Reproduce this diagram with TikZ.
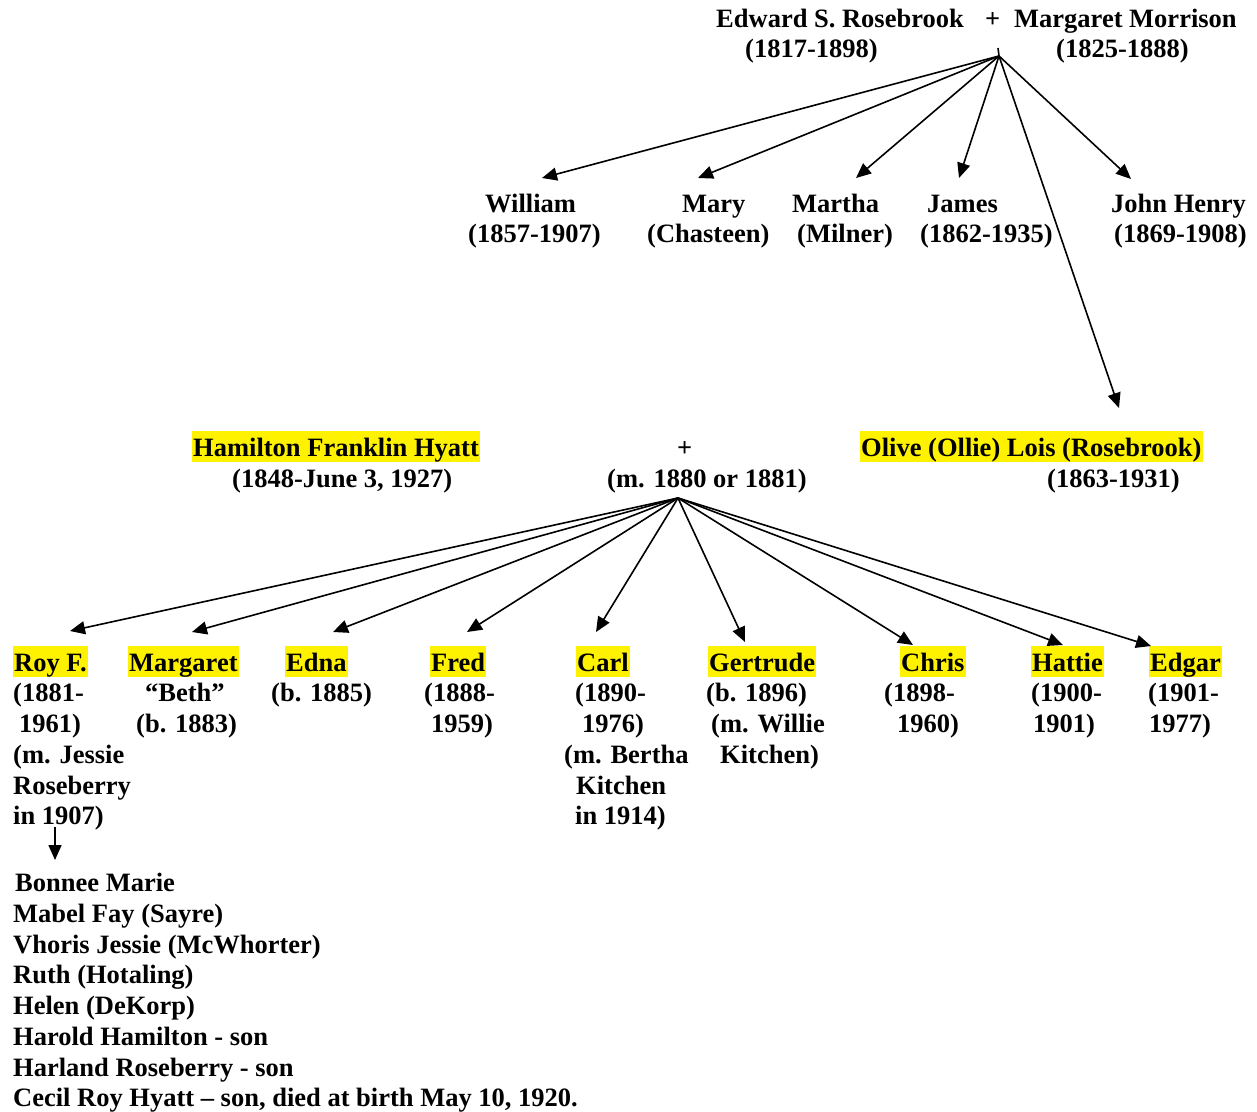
\documentclass[tikz,border=0pt]{standalone}
\usepackage{fontspec}
\setmainfont{Liberation Serif}
\usetikzlibrary{arrows.meta}
\begin{document}
\begin{tikzpicture}[x=1pt,y=-1pt,
  every node/.style={font=\fontsize{26.5pt}{30.5pt}\selectfont\bfseries, inner sep=0pt, anchor=base west},
  hl/.style={fill=yellow, text height=25pt, text depth=6pt, inner xsep=1pt},
  arr/.style={line width=1.6pt, -{Triangle[length=15pt,width=13pt]}}]
\useasboundingbox (0,0) rectangle (1257,1111);
% ---- first generation
\node (edw) at (716,27) {Edward S. Rosebrook};
\node (plus1) at (985,27) {+};
\node (mar) at (1014,27) {Margaret Morrison};
\node (edwd) at (745,57) {(1817-1898)};
\node (mard) at (1056,57) {(1825-1888)};
% ---- their children
\node (wil) at (485,212) {William};
\node (wild) at (468,242) {(1857-1907)};
\node (mary) at (682,212) {Mary};
\node (maryd) at (647,242) {(Chasteen)};
\node (mart) at (792,212) {Martha};
\node (martd) at (797,242) {(Milner)};
\node (jam) at (927,212) {James};
\node (jamd) at (920,242) {(1862-1935)};
\node (joh) at (1111,212) {John Henry};
\node (johd) at (1114,242) {(1869-1908)};
% ---- second couple
\node[hl] (ham) at (192,456) {Hamilton Franklin Hyatt};
\node (hamd) at (232,487) {(1848-June 3, 1927)};
\node (plus2) at (677,456) {+};
\node (marr) at (607,487) {(m. 1880 or 1881)};
\node[hl] (oli) at (860,456) {Olive (Ollie) Lois (Rosebrook)};
\node (olid) at (1047,487) {(1863-1931)};
% ---- grandchildren
\node[hl] (roy) at (13,671) {Roy F.};
\node (roy2) at (13,701) {(1881-};
\node (roy3) at (19,732) {1961)};
\node (roy4) at (13,763) {(m. Jessie};
\node (roy5) at (13,794) {Roseberry};
\node (roy6) at (13,824) {in 1907)};
\node[hl] (mgt) at (128,671) {Margaret};
\node (mgt2) at (145,701) {“Beth”};
\node (mgt3) at (136,732) {(b. 1883)};
\node[hl] (edn) at (285,671) {Edna};
\node (edn2) at (271,701) {(b. 1885)};
\node[hl] (fre) at (430,671) {Fred};
\node (fre2) at (424,701) {(1888-};
\node (fre3) at (431,732) {1959)};
\node[hl] (car) at (576,671) {Carl};
\node (car2) at (575,701) {(1890-};
\node (car3) at (582,732) {1976)};
\node (car4) at (564,763) {(m. Bertha};
\node (car5) at (576,794) {Kitchen};
\node (car6) at (575,824) {in 1914)};
\node[hl] (ger) at (708,671) {Gertrude};
\node (ger2) at (706,701) {(b. 1896)};
\node (ger3) at (711,732) {(m. Willie};
\node (ger4) at (720,763) {Kitchen)};
\node[hl] (chr) at (900,671) {Chris};
\node (chr2) at (884,701) {(1898-};
\node (chr3) at (897,732) {1960)};
\node[hl] (hat) at (1031,671) {Hattie};
\node (hat2) at (1031,701) {(1900-};
\node (hat3) at (1033,732) {1901)};
\node[hl] (edg) at (1149,671) {Edgar};
\node (edg2) at (1148,701) {(1901-};
\node (edg3) at (1149,732) {1977)};
% ---- Roy's children
\node (l1) at (15,891) {Bonnee Marie};
\node (l2) at (13,922) {Mabel Fay (Sayre)};
\node (l3) at (13,953) {Vhoris Jessie (McWhorter)};
\node (l4) at (13,983) {Ruth (Hotaling)};
\node (l5) at (13,1014) {Helen (DeKorp)};
\node (l6) at (13,1045) {Harold Hamilton - son};
\node (l7) at (13,1076) {Harland Roseberry - son};
\node (l8) at (13,1106) {Cecil Roy Hyatt – son, died at birth May 10, 1920.};
% ---- hubs and tips
\coordinate (h1) at (999,56);
\coordinate (h1s) at (998,48);
\coordinate (h2) at (678,498);
\coordinate (tw) at (542,178);
\coordinate (tm) at (698,178);
\coordinate (tma) at (856,178);
\coordinate (tj) at (959,178);
\coordinate (tjh) at (1131,179);
\coordinate (to) at (1119,408);
\coordinate (troy) at (70,631);
\coordinate (tmgt) at (192,632);
\coordinate (tedn) at (333,632);
\coordinate (tfre) at (467,632);
\coordinate (tcar) at (596,632);
\coordinate (tger) at (745,642);
\coordinate (tchr) at (913,645);
\coordinate (that) at (1063,645);
\coordinate (tedg) at (1151,646);
\coordinate (rfrom) at (55,827);
\coordinate (rto) at (55,860);
% ---- connectors
\draw[line width=1.6pt] (h1s) -- (h1);
\foreach \t in {tw,tm,tma,tj,tjh,to} \draw[arr] (h1) -- (\t);
\foreach \t in {troy,tmgt,tedn,tfre,tcar,tger,tchr,that,tedg} \draw[arr] (h2) -- (\t);
\draw[arr] (rfrom) -- (rto);
\end{tikzpicture}
\end{document}
